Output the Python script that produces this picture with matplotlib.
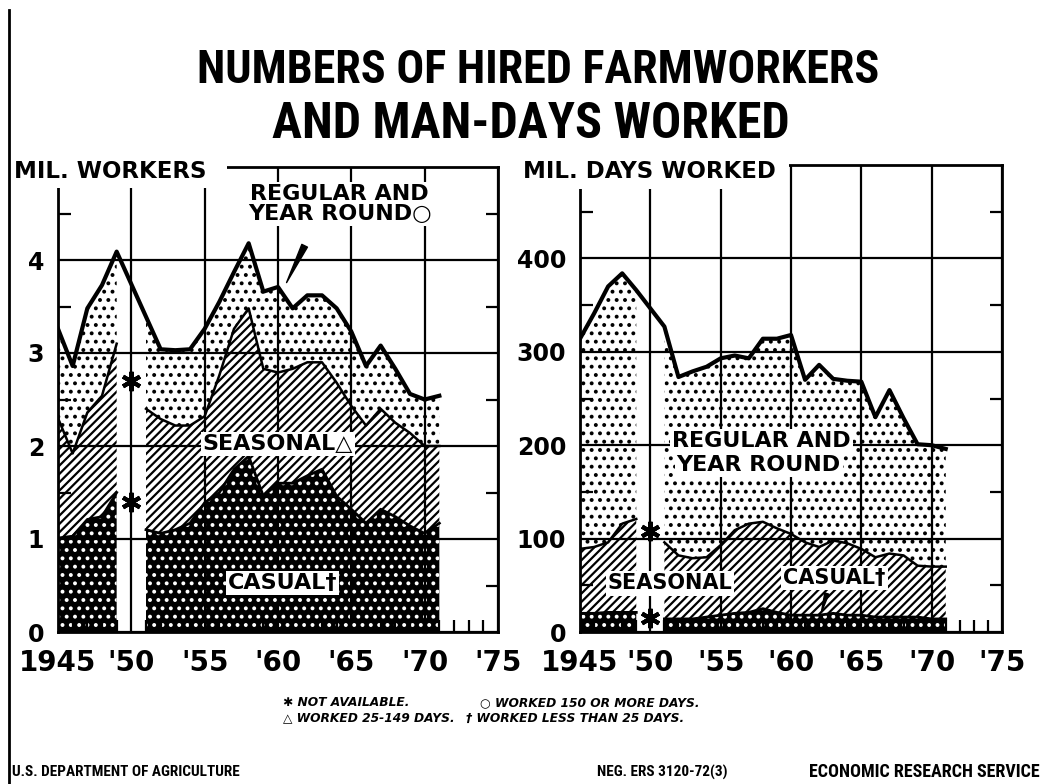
import numpy as np
import matplotlib.pyplot as plt
from matplotlib.lines import Line2D

plt.rcParams['font.family'] = ['DejaVu Sans']
plt.rcParams['font.weight'] = 'bold'
plt.rcParams['hatch.linewidth'] = 1.6

# years shown, 1950 not available
years = list(range(1945, 1972))
nan = np.nan

# hired farmworkers, million workers
workers_casual = [1.01, 1.03, 1.21, 1.24, 1.50, nan, 1.10, 1.06, 1.10, 1.17, 1.39, 1.50, 1.75, 1.89,
                  1.46, 1.60, 1.60, 1.68, 1.75, 1.46, 1.32, 1.17, 1.32, 1.24, 1.14, 1.06, 1.17]
workers_seasonal = [1.29, 0.89, 1.15, 1.30, 1.60, nan, 1.30, 1.23, 1.12, 1.05, 0.93, 1.26, 1.51, 1.59,
                    1.37, 1.19, 1.23, 1.22, 1.15, 1.22, 1.11, 1.05, 1.08, 1.01, 1.00, 0.94, 0.83]
workers_regular = [0.96, 0.94, 1.12, 1.19, 0.99, nan, 0.99, 0.75, 0.81, 0.82, 0.94, 0.79, 0.61, 0.70,
                   0.83, 0.92, 0.65, 0.72, 0.72, 0.80, 0.80, 0.64, 0.68, 0.58, 0.42, 0.50, 0.54]
workers_stars = [2.7, 1.4]

# man-days worked, million days
days_casual = [20, 20, 21, 21, 21, nan, 14, 14, 14, 16, 18, 20, 21, 25,
               21, 18, 18, 18, 20, 18, 18, 16, 16, 16, 16, 14, 14]
days_seasonal = [69, 71, 75, 95, 100, nan, 82, 68, 65, 64, 75, 89, 95, 93,
                 90, 87, 78, 73, 78, 77, 71, 64, 68, 66, 55, 56, 56]
days_regular = [225, 250, 274, 268, 245, nan, 231, 191, 200, 204, 200, 187, 177, 196,
                203, 213, 174, 195, 173, 174, 179, 150, 175, 147, 130, 130, 126]
days_stars = [108, 15]

tick_years = [1945, 1950, 1955, 1960, 1965, 1970, 1975]
tick_labels = ['1945', "'50", "'55", "'60", "'65", "'70", "'75"]

W, H = 1052, 784
fig = plt.figure(figsize=(W / 100, H / 100), dpi=100)
fig.patch.set_facecolor('white')


def panel(rect, casual, seasonal, regular, stars, ymax, ystep):
    ax = fig.add_axes(rect)
    x = np.array(years)
    c = np.array(casual)
    s = c + np.array(seasonal)
    t = s + np.array(regular)
    ax.fill_between(x, 0, c, facecolor='black', edgecolor='white', hatch='..', linewidth=0, zorder=1)
    ax.fill_between(x, c, s, facecolor='white', edgecolor='black', hatch='////', linewidth=0, zorder=1)
    ax.fill_between(x, s, t, facecolor='white', edgecolor='black', hatch='..', linewidth=0, zorder=1)
    ax.plot(x, c, color='black', lw=2, zorder=3)
    ax.plot(x, s, color='black', lw=1.8, zorder=3)
    ok = ~np.isnan(t)
    ax.plot(x[ok], t[ok], color='black', lw=3, zorder=4)
    ax.plot([1950] * len(stars), stars, ls='none', marker=(6, 2, 0), ms=14, mew=3,
            color='black', zorder=5)

    ax.set_xlim(1945, 1975)
    ax.set_ylim(0, ymax)
    ax.set_axisbelow(False)
    ax.grid(True, color='black', lw=1.6)
    ax.set_xticks(tick_years, tick_labels)
    yt = list(range(0, ymax, ystep))
    ax.set_yticks(yt, [str(v) for v in yt])
    ax.set_yticks([v + ystep / 2 for v in range(0, ymax, ystep)], minor=True)
    ax.set_xticks(range(1945, 1976), minor=True)
    ax.tick_params(which='major', length=0)
    ax.tick_params(axis='x', which='major', labelsize=20, pad=12)
    ax.tick_params(axis='y', which='major', labelsize=17, pad=10)
    ax.tick_params(axis='y', which='minor', direction='in', length=9, width=1.6, left=True, right=True)
    ax.tick_params(axis='x', which='minor', direction='in', length=9, width=1.6)
    for sp in ax.spines.values():
        sp.set_linewidth(2)
    return ax


ax1 = panel([58 / W, 1 - 632 / H, 440 / W, 465 / H],
            workers_casual, workers_seasonal, workers_regular, workers_stars, 5, 1)
ax2 = panel([580 / W, 1 - 632 / H, 422 / W, 467 / H],
            days_casual, days_seasonal, days_regular, days_stars, 500, 100)

box = dict(facecolor='white', edgecolor='none', pad=1.5)

# left panel labels
ax1.text(1964.2, 4.6, 'REGULAR AND\nYEAR ROUND\u25cb', fontsize=16, ha='center', va='center',
         linespacing=1.0, bbox=box, zorder=6)
ax1.annotate('', xy=(1960.5, 3.73), xytext=(1961.9, 4.18),
             arrowprops=dict(arrowstyle='wedge,tail_width=0.45', fc='black', ec='black'), zorder=6)
ax1.text(1960.0, 2.02, 'SEASONAL\u25b3', fontsize=16, ha='center', va='center', bbox=box, zorder=6)
ax1.text(1960.3, 0.53, 'CASUAL\u2020', fontsize=16, ha='center', va='center', bbox=box, zorder=6)

# right panel labels
ax2.text(1957.9, 205, 'REGULAR AND', fontsize=16, ha='center', va='center', bbox=box, zorder=6)
ax2.text(1957.7, 179, 'YEAR ROUND', fontsize=16, ha='center', va='center', bbox=box, zorder=6)
ax2.text(1951.4, 52, 'SEASONAL', fontsize=15, ha='center', va='center', bbox=box, zorder=6)
ax2.text(1963.1, 58, 'CASUAL\u2020', fontsize=15, ha='center', va='center', bbox=box, zorder=6)
ax2.annotate('', xy=(1962.1, 18), xytext=(1962.6, 44),
             arrowprops=dict(arrowstyle='wedge,tail_width=0.3', fc='black', ec='black'), zorder=6)

# axis unit labels sit over the top-left corner of each frame
fig.text(14 / W, 1 - 172 / H, 'MIL. WORKERS  ', fontsize=16.5, ha='left', va='center',
         bbox=dict(facecolor='white', edgecolor='none', pad=3))
fig.text(523 / W, 1 - 172 / H, 'MIL. DAYS WORKED ', fontsize=16.5, ha='left', va='center',
         bbox=dict(facecolor='white', edgecolor='none', pad=4))

# title and footer in the narrowest bold face available, sized to the original widths
narrow = ['Roboto Condensed', 'Open Sans Condensed', 'Liberation Sans Narrow', 'DejaVu Sans']
t1 = fig.text(538 / W, 1 - 70 / H, 'NUMBERS OF HIRED FARMWORKERS', fontsize=30, family=narrow,
              fontstretch='condensed', ha='center', va='center')
t2 = fig.text(531 / W, 1 - 124 / H, 'AND MAN-DAYS WORKED', fontsize=30, family=narrow,
              fontstretch='condensed', ha='center', va='center')
f1 = fig.text(12 / W, 1 - 772 / H, 'U.S. DEPARTMENT OF AGRICULTURE', fontsize=10, family=narrow,
              fontstretch='condensed', ha='left', va='center')
f2 = fig.text(597 / W, 1 - 772 / H, 'NEG. ERS 3120-72(3)', fontsize=10, family=narrow,
              fontstretch='condensed', ha='left', va='center')
f3 = fig.text(1040 / W, 1 - 772 / H, 'ECONOMIC RESEARCH SERVICE', fontsize=10, family=narrow,
              fontstretch='condensed', ha='right', va='center')
renderer = fig.canvas.get_renderer()
for t, target, cap in [(t1, 683, 40), (t2, 517, 40), (f1, 236, 11), (f2, 141, 11), (f3, 288, 13)]:
    size = t.get_fontsize()
    w = t.get_window_extent(renderer).width
    t.set_fontsize(min(cap, size * target / w))

# footnotes
note = dict(fontsize=8.8, style='italic', ha='left', va='center')
fig.text(283 / W, 1 - 703 / H, '\u2731 NOT AVAILABLE.', **note)
fig.text(480 / W, 1 - 703 / H, '\u25cb WORKED 150 OR MORE DAYS.', **note)
fig.text(283 / W, 1 - 718 / H, '\u25b3 WORKED 25-149 DAYS.', **note)
fig.text(466 / W, 1 - 718 / H, '\u2020 WORKED LESS THAN 25 DAYS.', **note)

fig.add_artist(Line2D([9 / W, 9 / W], [0, 1 - 10 / H], color='black', lw=2, zorder=10))

fig.savefig('out.png', dpi=100)
